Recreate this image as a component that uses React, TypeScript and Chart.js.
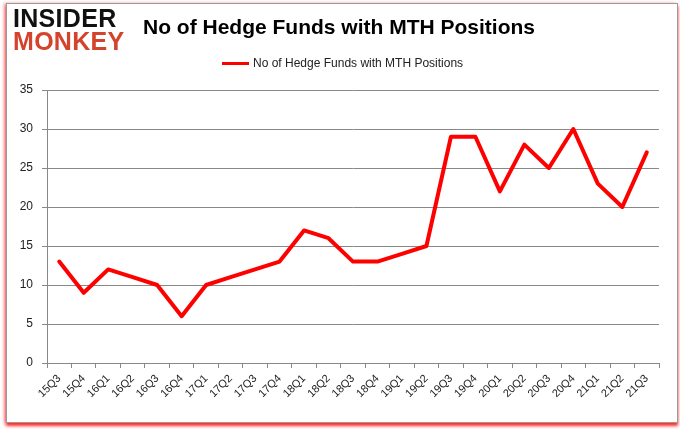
import React, { useEffect, useRef } from "react";
import { Chart, registerables } from "chart.js";

Chart.register(...registerables);

const categories = [
  "15Q3", "15Q4", "16Q1", "16Q2", "16Q3", "16Q4", "17Q1", "17Q2", "17Q3", "17Q4",
  "18Q1", "18Q2", "18Q3", "18Q4", "19Q1", "19Q2", "19Q3", "19Q4", "20Q1", "20Q2",
  "20Q3", "20Q4", "21Q1", "21Q2", "21Q3",
];
const hedgeFunds = [13, 9, 12, 11, 10, 6, 10, 11, 12, 13, 17, 16, 13, 13, 14, 15, 29, 29, 22, 28, 25, 30, 23, 20, 27];
const seriesName = "No of Hedge Funds with MTH Positions";
const chartTitle = "No of Hedge Funds with MTH Positions";
const yTicks = [0, 5, 10, 15, 20, 25, 30, 35];

const FONT = "'Liberation Sans', Arial, sans-serif";

export default function App() {
  const canvasRef = useRef<HTMLCanvasElement | null>(null);

  useEffect(() => {
    document.body.style.margin = "0";
    const ctx = canvasRef.current!.getContext("2d")!;
    const chart = new Chart(ctx, {
      type: "line",
      data: {
        labels: categories,
        datasets: [
          {
            label: seriesName,
            data: hedgeFunds,
            borderColor: "#ff0000",
            backgroundColor: "#ff0000",
            borderWidth: 4,
            pointRadius: 0,
            tension: 0,
            borderJoinStyle: "round",
            borderCapStyle: "round",
          },
        ],
      },
      options: {
        animation: false,
        responsive: false,
        maintainAspectRatio: false,
        layout: { padding: { top: 90, left: 0, right: 21, bottom: 0 } },
        plugins: {
          legend: { display: false },
          title: { display: false },
          tooltip: { enabled: false },
        },
        scales: {
          x: {
            type: "category",
            offset: true,
            afterFit: (s: any) => {
              s.height = 433 - 363;
            },
            grid: {
              display: true,
              offset: true,
              drawOnChartArea: false,
              drawTicks: true,
              tickLength: 5,
              color: "#888888",
            },
            border: { display: true, color: "#888888", width: 1 },
            ticks: {
              autoSkip: false,
              maxRotation: 45,
              minRotation: 45,
              padding: 4,
              color: "#222222",
              font: { family: FONT, size: 11 },
            },
          },
          y: {
            min: 0,
            max: 35,
            afterFit: (s: any) => {
              s.width = 47;
            },
            afterBuildTicks: (s: any) => {
              s.ticks = yTicks.map((v) => ({ value: v }));
            },
            grid: {
              color: "#888888",
              drawTicks: true,
              tickLength: 5,
            },
            border: { display: true, color: "#888888", width: 1 },
            ticks: {
              padding: 9,
              color: "#222222",
              font: { family: FONT, size: 12 },
            },
          },
        },
      },
    });
    return () => chart.destroy();
  }, []);

  return (
    <div
      style={{
        position: "relative",
        width: 680,
        height: 433,
        background: "#ffffff",
        overflow: "hidden",
      }}
    >
      <div
        style={{
          position: "absolute",
          left: 6,
          top: 3,
          width: 670,
          height: 418,
          border: "1px solid #9a9a9a",
          boxShadow: "0px 3px 3px #ff2a2a, -2px 0px 3px #f4a0a0",
          background: "#ffffff",
        }}
      />
      <canvas
        ref={canvasRef}
        width={680}
        height={433}
        style={{ position: "absolute", left: 0, top: 0, width: 680, height: 433 }}
      />
      <div
        style={{
          position: "absolute",
          left: 13,
          top: 7,
          fontFamily: FONT,
          fontWeight: 900,
          fontSize: 25,
          lineHeight: "22px",
          color: "#111111",
          letterSpacing: 0.3,
        }}
      >
        INSIDER
      </div>
      <div
        style={{
          position: "absolute",
          left: 13,
          top: 30,
          fontFamily: FONT,
          fontWeight: 900,
          fontSize: 25,
          lineHeight: "22px",
          color: "#d4432c",
          letterSpacing: 0.3,
        }}
      >
        MONKEY
      </div>
      <div
        style={{
          position: "absolute",
          left: 0,
          width: 680,
          top: 13,
          textAlign: "center",
          fontFamily: FONT,
          fontWeight: 700,
          fontSize: 21,
          lineHeight: "28px",
          color: "#000000",
        }}
      >
        <span style={{ marginLeft: -2 }}>{chartTitle}</span>
      </div>
      <div
        style={{
          position: "absolute",
          left: 222,
          top: 55,
          display: "flex",
          alignItems: "center",
          fontFamily: FONT,
          fontSize: 12,
          color: "#222222",
          height: 16,
        }}
      >
        <span style={{ display: "inline-block", width: 27, height: 3, background: "#ff0000", marginRight: 4 }} />
        <span>{seriesName}</span>
      </div>
    </div>
  );
}
